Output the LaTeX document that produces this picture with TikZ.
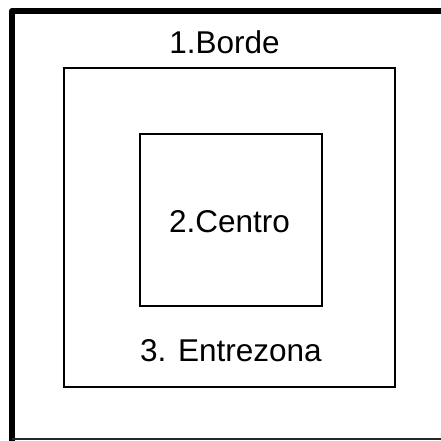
\documentclass[tikz,border=0pt]{standalone}
\usepackage{fontspec}
\setmainfont{Liberation Sans}
\tikzset{
  zonebox/.style={draw=black, line width=2pt},
  zonelabel/.style={anchor=base, inner sep=0pt, font=\fontsize{31.5}{36}\selectfont},
}
\begin{document}
\begin{tikzpicture}[x=1pt,y=-1pt]
\useasboundingbox (0,0) rectangle (441,440);
% outer frame
\draw[line width=6pt, line join=round] (12,441) -- (12,11) -- (442,11);
\draw[line width=1.2pt, draw=black!85] (12,439) -- (442,439);
% middle and inner boxes
\draw[zonebox] (64,68) rectangle (395,387);
\draw[zonebox] (140,134) rectangle (322,306);
% labels
\node[zonelabel] (borde) at (224.5,53.3) {1.Borde};
\node[zonelabel] (centro) at (229.5,232.7) {2.Centro};
\node[zonelabel] (entre) at (231,361) {3. Entrezona};
\end{tikzpicture}
\end{document}
